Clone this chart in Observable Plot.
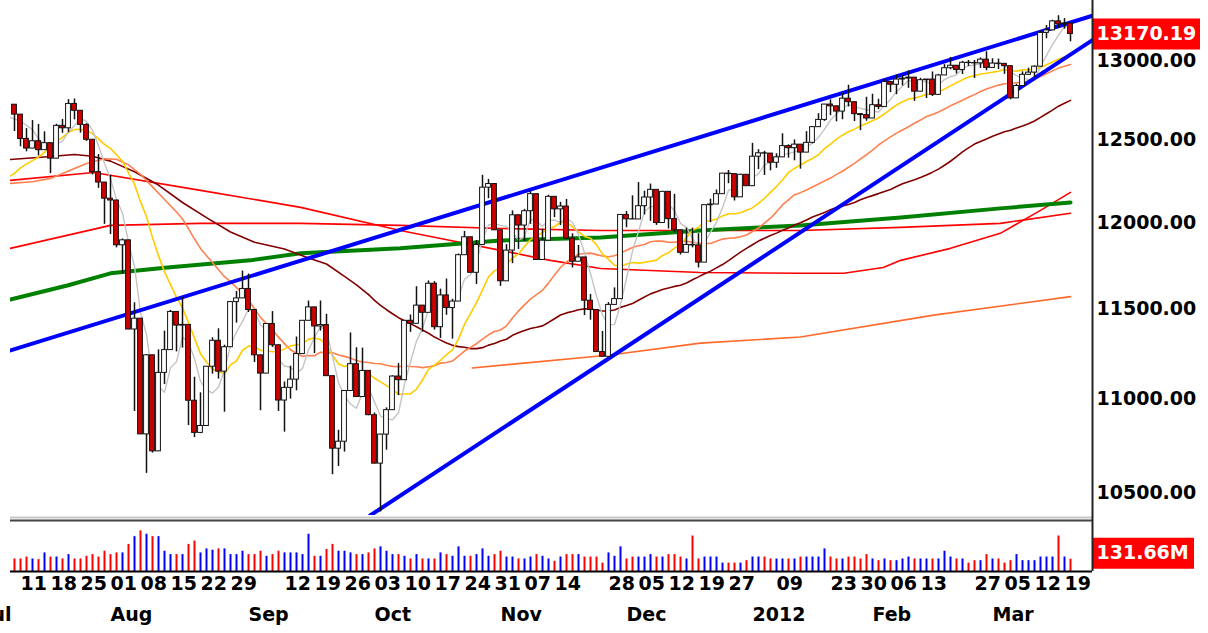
<!DOCTYPE html>
<html><head><meta charset="utf-8">
<script src="https://cdn.jsdelivr.net/npm/d3@7"></script>
<script src="https://cdn.jsdelivr.net/npm/@observablehq/plot@0.6"></script>
<style>
body{margin:0;background:#fff;}
#chart svg{display:block;}
</style></head><body><div id="chart"></div>
<script>
// ---------- data ----------
const dates = ("2011-07-08 2011-07-11 2011-07-12 2011-07-13 2011-07-14 2011-07-15 2011-07-18 2011-07-19 2011-07-20 2011-07-21 2011-07-22 2011-07-25 2011-07-26 2011-07-27 2011-07-28 2011-07-29 " +
"2011-08-01 2011-08-02 2011-08-03 2011-08-04 2011-08-05 2011-08-08 2011-08-09 2011-08-10 2011-08-11 2011-08-12 2011-08-15 2011-08-16 2011-08-17 2011-08-18 2011-08-19 2011-08-22 2011-08-23 2011-08-24 2011-08-25 2011-08-26 2011-08-29 2011-08-30 2011-08-31 " +
"2011-09-01 2011-09-02 2011-09-06 2011-09-07 2011-09-08 2011-09-09 2011-09-12 2011-09-13 2011-09-14 2011-09-15 2011-09-16 2011-09-19 2011-09-20 2011-09-21 2011-09-22 2011-09-23 2011-09-26 2011-09-27 2011-09-28 2011-09-29 2011-09-30 " +
"2011-10-03 2011-10-04 2011-10-05 2011-10-06 2011-10-07 2011-10-10 2011-10-11 2011-10-12 2011-10-13 2011-10-14 2011-10-17 2011-10-18 2011-10-19 2011-10-20 2011-10-21 2011-10-24 2011-10-25 2011-10-26 2011-10-27 2011-10-28 2011-10-31 " +
"2011-11-01 2011-11-02 2011-11-03 2011-11-04 2011-11-07 2011-11-08 2011-11-09 2011-11-10 2011-11-11 2011-11-14 2011-11-15 2011-11-16 2011-11-17 2011-11-18 2011-11-21 2011-11-22 2011-11-23 2011-11-25 2011-11-28 2011-11-29 2011-11-30 " +
"2011-12-01 2011-12-02 2011-12-05 2011-12-06 2011-12-07 2011-12-08 2011-12-09 2011-12-12 2011-12-13 2011-12-14 2011-12-15 2011-12-16 2011-12-19 2011-12-20 2011-12-21 2011-12-22 2011-12-23 2011-12-27 2011-12-28 2011-12-29 2011-12-30 " +
"2012-01-03 2012-01-04 2012-01-05 2012-01-06 2012-01-09 2012-01-10 2012-01-11 2012-01-12 2012-01-13 2012-01-17 2012-01-18 2012-01-19 2012-01-20 2012-01-23 2012-01-24 2012-01-25 2012-01-26 2012-01-27 2012-01-30 2012-01-31 " +
"2012-02-01 2012-02-02 2012-02-03 2012-02-06 2012-02-07 2012-02-08 2012-02-09 2012-02-10 2012-02-13 2012-02-14 2012-02-15 2012-02-16 2012-02-17 2012-02-21 2012-02-22 2012-02-23 2012-02-24 2012-02-27 2012-02-28 2012-02-29 " +
"2012-03-01 2012-03-02 2012-03-05 2012-03-06 2012-03-07 2012-03-08 2012-03-09 2012-03-12 2012-03-13 2012-03-14 2012-03-15 2012-03-16 2012-03-19 2012-03-20").split(" ");

const open = [12719,12657,12506,12447,12492,12437,12480,12385,12587,12572,12724,12681,12593,12501,12303,12240,
12143,12132,11867,11896,11384,11445,10810,11240,10720,11143,11269,11483,11406,11410,10991,10818,10855,11177,11321,11150,11285,11539,11560,
11614,11494,11240,11139,11415,11296,10992,11061,11106,11247,11433,11509,11401,11409,11125,10734,10771,11044,11191,11011,11154,
10913,10655,10809,10940,11123,11103,11433,11416,11519,11478,11644,11397,11577,11505,11542,11809,11914,11707,11869,12209,12231,
11955,11658,11836,12044,11983,12068,12170,11781,11894,12154,12079,12096,11906,11771,11796,11547,11494,11258,11232,11523,11556,
12046,12020,12019,12098,12150,12196,11998,12184,12021,11955,11823,11869,11866,11766,12104,12108,12170,12294,12291,12151,12287,
12218,12397,12418,12416,12360,12393,12462,12449,12471,12422,12482,12579,12624,12720,12709,12676,12757,12735,12660,12654,
12633,12716,12705,12862,12845,12878,12884,12890,12801,12874,12878,12781,12904,12950,12966,12939,12985,12983,12981,13005,
12952,12980,12978,12963,12759,12837,12908,12922,12960,13178,13194,13253,13233,13239];

const high = [12719,12657,12570,12620,12596,12550,12480,12597,12627,12751,12755,12681,12600,12501,12410,12240,
12284,12133,11904,11896,11535,11445,11244,11240,11270,11375,11492,11483,11566,11410,11119,11034,11177,11338,11388,11296,11543,11600,11717,
11700,11494,11240,11415,11485,11296,11093,11180,11342,11434,11545,11509,11545,11470,11125,10832,11045,11365,11282,11280,11154,
10925,10811,10952,11127,11194,11435,11466,11627,11519,11660,11656,11613,11671,11555,11816,11948,11914,11895,12284,12259,12231,
11955,11871,12070,12044,12079,12187,12170,11960,12163,12154,12121,12138,11934,11866,11796,11583,11494,11373,11536,11620,12046,
12066,12160,12240,12188,12231,12196,12186,12184,12169,11955,11968,11968,11935,12104,12140,12195,12294,12313,12291,12290,12288,
12479,12440,12430,12416,12415,12538,12470,12500,12471,12551,12582,12663,12721,12749,12709,12791,12842,12735,12660,12766,
12785,12753,12878,12862,12907,12904,12933,12890,12886,12878,12926,12911,12973,13019,12966,12994,13000,13000,13016,13056,
13011,13009,12978,12963,12848,12927,12950,12966,13190,13226,13260,13290,13271,13239];

const low = [12552,12458,12427,12447,12402,12437,12294,12385,12541,12545,12624,12542,12491,12286,12205,11990,
11930,11852,11700,11383,10933,10810,10604,10711,10720,11079,11269,11259,11280,10857,10793,10814,10855,11136,11109,10929,11285,11420,11560,
11480,11200,10937,11139,11284,10933,10822,11000,11045,11247,11433,11250,11375,11124,10597,10640,10716,11044,11009,11011,10910,
10655,10404,10726,10940,11019,11103,11368,11416,11369,11478,11381,11334,11464,11330,11542,11809,11706,11640,11869,12143,11955,
11629,11658,11760,11842,11889,11990,11780,11781,11894,12030,11983,11900,11735,11771,11463,11436,11257,11231,11232,11523,11556,
11970,12019,12019,12046,12008,11984,11998,11963,11940,11810,11823,11852,11735,11766,12000,12108,12170,12233,12129,12151,12217,
12218,12319,12283,12311,12326,12393,12388,12372,12321,12422,12476,12579,12615,12650,12612,12625,12705,12614,12557,12616,
12633,12688,12705,12795,12782,12837,12822,12740,12801,12758,12771,12779,12904,12940,12913,12910,12962,12885,12949,12934,
12952,12942,12911,12750,12759,12837,12907,12890,12960,13140,13194,13206,13202,13120];

const close = [12657,12506,12447,12492,12437,12480,12385,12587,12572,12724,12681,12593,12501,12303,12240,12143,
12132,11867,11896,11384,11445,10810,11240,10720,11143,11269,11483,11406,11410,10991,10818,10855,11177,11321,11150,11285,11539,11560,11614,
11494,11240,11139,11415,11296,10992,11061,11106,11247,11433,11509,11401,11409,11125,10734,10771,11044,11191,11011,11154,10913,
10655,10809,10940,11123,11103,11433,11416,11519,11478,11644,11397,11577,11505,11542,11809,11914,11707,11869,12209,12231,11955,
11658,11836,12044,11983,12068,12170,11781,11894,12154,12079,12096,11906,11771,11796,11547,11494,11258,11232,11523,11556,12046,
12020,12019,12098,12150,12196,11998,12184,12021,11955,11823,11869,11866,11766,12104,12108,12170,12294,12291,12151,12287,12218,
12397,12418,12416,12360,12393,12462,12449,12471,12422,12482,12579,12624,12720,12709,12676,12757,12735,12660,12654,12633,
12716,12705,12862,12845,12878,12884,12890,12801,12874,12878,12781,12904,12950,12966,12939,12985,12983,12981,13005,12952,
12980,12978,12963,12759,12837,12908,12922,12960,13178,13194,13253,13233,13239,13170.19];

// volume, millions of shares
const volume = [134,134,155,134,127,199,155,155,134,181,134,134,163,181,155,217,181,199,199,290,
373,435,399,373,373,217,181,181,181,290,326,199,242,228,242,242,181,181,217,181,
181,217,163,181,217,199,199,199,181,399,163,163,236,290,217,217,199,181,181,199,
242,264,217,181,181,163,134,181,134,134,134,199,181,163,264,163,163,181,242,163,
181,217,155,155,134,134,155,181,163,134,109,155,181,181,181,155,155,155,
90,199,163,264,134,155,155,155,181,155,155,181,181,155,134,380,134,155,155,155,
90,90,90,90,116,155,155,155,134,134,134,134,134,155,155,155,155,242,155,134,
134,155,155,134,181,134,116,134,116,116,134,155,134,134,134,134,134,217,155,134,
134,90,116,116,181,134,134,90,116,181,116,116,116,155,155,155,380,155,131.66];

// moving-average lines: [bar, value]
const grayHead   = [[-0.7,12640],[0,12631],[1,12616],[2,12591],[3,12564],[4,12508]];
const yellowHead = [[-0.7,12280],[0,12295],[1,12329],[2,12353],[3,12373],[4,12395],[5,12424],[6,12454],[7,12490],[8,12516],[9,12547],[10,12564],[11,12565],[12,12560],[13,12539],[14,12507]];
const orangeHead = [[-0.7,12235],[3,12245],[6,12265],[9,12310],[12,12355],[15,12384],[17,12381],[19,12347],[21,12290],[23,12214],[25,12138],[27,12063],[28,12022],[29,11965]];
const brownHead  = [[-0.7,12380],[5,12395],[10,12410],[13,12400],[16,12370],[20,12305],[24,12225],[28,12120],[32,12030],[36,11945],[40,11885],[45,11845],[49,11793],[52,11758],[55,11686],[57,11637],[59,11582]];
const redFlat    = [[-0.7,11849],[16,11984],[31,11996],[47.7,11996],[64.3,11984],[81,11966],[97.7,11954],[114.3,11954],[131,11954],[147.7,11972],[164.3,11996],[176,12056]];
const redCurve   = [[-0.7,12253],[13.2,12301],[31,12193],[47.7,12091],[64.3,11954],[72.7,11895],[81,11837],[89.3,11779],[97.7,11732],[114.3,11709],[131,11704],[138.2,11704],[144.8,11738],[147.7,11779],[156,11849],[164.3,11937],[171,12073],[176,12181]];
const greenLong  = [[-0.7,11554],[8.8,11634],[16,11704],[25.5,11738],[39.3,11779],[47.7,11820],[64.3,11849],[81,11895],[97.7,11913],[114.3,11954],[131,11984],[147.7,12030],[164.3,12085],[176,12120]];
const orangeLong = [[76.3,11170],[99.3,11242],[114.3,11308],[131,11342],[153.2,11465],[176,11570]];
const upperTrend = [[-0.667,11267],[179.667,13290]];
const lowerTrend = [[59.27,10386],[179.667,13131]];

const yTicks = [10500, 11000, 11500, 12000, 12500, 13000];
const dayTicks = ["2011-07-11","2011-07-18","2011-07-25","2011-08-01","2011-08-08","2011-08-15","2011-08-22","2011-08-29",
"2011-09-12","2011-09-19","2011-09-26","2011-10-03","2011-10-10","2011-10-17","2011-10-24","2011-10-31","2011-11-07","2011-11-14",
"2011-11-28","2011-12-05","2011-12-12","2011-12-19","2011-12-27","2012-01-09","2012-01-23","2012-01-30","2012-02-06","2012-02-13",
"2012-02-27","2012-03-05","2012-03-12","2012-03-19"];
const monthLabels = ["Jul","Aug","Sep","Oct","Nov","Dec","2012","Feb","Mar"];
const monthFirstBar = [-5, 16, 39, 60, 81, 102, 123, 143, 163];

// ---------- chart ----------
const bars = dates.map((date, i) => ({i, date, open: open[i], high: high[i], low: low[i], close: close[i], volume: volume[i]}));
const last = bars[bars.length - 1];
const XMIN = -2/3, XMAX = 179 + 2/3;
const YMIN = 10386, YMAX = 13390;
const W = 1208;
const txt = {fontFamily: "DejaVu Sans", fontWeight: "bold", fontSize: 19};

const pts = (arr, stroke, strokeWidth) => Plot.line(arr, {x: d => d[0], y: d => d[1], stroke, strokeWidth, clip: true});
const sma = (k, stroke, strokeWidth) => Plot.lineY(bars, Plot.windowY({k, anchor: "end", strict: true}, {x: "i", y: "close", stroke, strokeWidth, clip: true}));

const price = Plot.plot({
  width: W, height: 524,
  marginLeft: 10, marginRight: W - 1092, marginTop: 0, marginBottom: 9,
  x: {type: "linear", domain: [XMIN, XMAX], axis: null},
  y: {type: "log", domain: [YMIN, YMAX], axis: null},
  style: {background: "white"},
  marks: [
    pts(redFlat, "#ff0000", 1.6),
    pts(redCurve, "#ff0000", 1.6),
    pts(orangeLong, "#ff6a2a", 1.6),
    pts(greenLong, "#008000", 4),
    pts(brownHead, "#800000", 1.6), sma(60, "#800000", 1.6),
    pts(orangeHead, "#ff8050", 1.6), sma(30, "#ff8050", 1.6),
    pts(yellowHead, "#ffcc00", 1.6), sma(15, "#ffcc00", 1.6),
    pts(grayHead, "#c4c4c4", 1.4), sma(5, "#c4c4c4", 1.4),
    pts(upperTrend, "#0000ff", 4),
    pts(lowerTrend, "#0000ff", 4),
    Plot.ruleX(bars, {x: "i", y1: "low", y2: "high", stroke: "#111", strokeWidth: 1.5, clip: true}),
    Plot.rect(bars, {x1: d => d.i - 0.4, x2: d => d.i + 0.4, y1: "open", y2: "close",
      fill: d => d.close < d.open ? "#d00000" : "#ffffff", stroke: "#111", strokeWidth: 1, clip: true}),
    Plot.ruleY([YMIN], {dy: 2, stroke: "#c8c8c8", strokeWidth: 2}),
    Plot.ruleY([YMIN], {dy: 5, stroke: "#444", strokeWidth: 2}),
    Plot.text(yTicks, {y: d => d, frameAnchor: "right", dx: 4, textAnchor: "start", text: d => d.toFixed(2), fill: "#000", ...txt}),
    Plot.ruleY([last.close], {x1: XMAX, x2: XMAX + 18, stroke: "#ff0000", strokeWidth: 31}),
    Plot.text([last.close], {y: d => d, frameAnchor: "right", dx: 4, textAnchor: "start", text: d => d.toFixed(2), fill: "#fff", ...txt}),
    Plot.ruleX([XMAX], {stroke: "#222", strokeWidth: 2, insetBottom: -9})
  ]
});

const vol = Plot.plot({
  width: W, height: 109,
  marginLeft: 10, marginRight: W - 1092, marginTop: 0, marginBottom: 62,
  x: {type: "linear", domain: [XMIN, XMAX], axis: null},
  y: {domain: [0, 503], axis: null},
  color: {type: "identity"},
  style: {background: "white"},
  marks: [
    Plot.ruleX(bars, {x: "i", y1: 0, y2: "volume", stroke: d => d.close < d.open ? "#ff0000" : "#0000ff", strokeWidth: 2}),
    Plot.ruleY([0], {stroke: "#000", strokeWidth: 2}),
    Plot.ruleY([last.volume], {x1: XMAX, x2: XMAX + 17, dy: -6, stroke: "#ff0000", strokeWidth: 31}),
    Plot.text([last.volume], {y: d => d, frameAnchor: "right", dx: 4, dy: -6, textAnchor: "start", text: d => d.toFixed(2) + "M", fill: "#fff", ...txt}),
    Plot.ruleX([XMAX], {stroke: "#222", strokeWidth: 2}),
    Plot.text(dayTicks, {x: d => dates.indexOf(d), text: d => d.slice(8, 10), frameAnchor: "bottom", dy: 18, textAnchor: "start", fill: "#000", ...txt}),
    Plot.text(monthLabels, {x: (d, i) => monthFirstBar[i], text: d => d, frameAnchor: "bottom", dy: 49, textAnchor: "start", fill: "#000", ...txt})
  ]
});

document.getElementById("chart").append(price, vol);
</script>
</body></html>
